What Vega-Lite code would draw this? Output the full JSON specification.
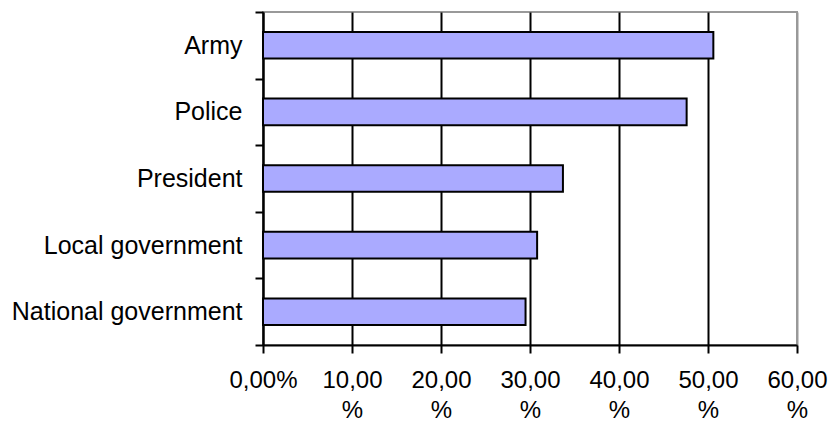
{
  "$schema": "https://vega.github.io/schema/vega-lite/v6.json",
  "width": 534,
  "height": 333,
  "autosize": "none",
  "padding": {"left": 263, "top": 12, "right": 33, "bottom": 76},
  "background": "white",
  "view": {"stroke": "#999999", "strokeWidth": 2},
  "data": {
    "values": [
      {"institution": "Army", "pct": 50.6},
      {"institution": "Police", "pct": 47.6},
      {"institution": "President", "pct": 33.7},
      {"institution": "Local government", "pct": 30.8},
      {"institution": "National government", "pct": 29.5}
    ]
  },
  "mark": {"type": "bar", "height": {"band": 0.4}, "fill": "#AAAAFF", "stroke": "black", "strokeWidth": 2},
  "encoding": {
    "y": {
      "field": "institution",
      "type": "nominal",
      "sort": null,
      "scale": {"paddingInner": 0, "paddingOuter": 0},
      "axis": {
        "title": null,
        "tickBand": "extent",
        "grid": false,
        "domainColor": "black",
        "domainWidth": 2,
        "tickColor": "black",
        "tickWidth": 2,
        "tickSize": 8,
        "labelPadding": 13,
        "labelFont": "Liberation Sans",
        "labelFontSize": 25,
        "labelColor": "black",
        "labelLimit": 400
      }
    },
    "x": {
      "field": "pct",
      "type": "quantitative",
      "scale": {"domain": [0, 60], "nice": false},
      "axis": {
        "title": null,
        "values": [0, 10, 20, 30, 40, 50, 60],
        "labelExpr": "datum.value == 0 ? '0,00%' : [replace(format(datum.value, '.2f'), '.', ','), '%']",
        "grid": true,
        "gridColor": {"condition": {"test": "datum.value == 60", "value": "#999999"}, "value": "black"},
        "gridWidth": 2,
        "domainColor": "black",
        "domainWidth": 2,
        "tickColor": "black",
        "tickWidth": 2,
        "tickSize": 8,
        "labelPadding": 15,
        "labelFont": "Liberation Sans",
        "labelFontSize": 24,
        "labelLineHeight": 30,
        "labelColor": "black",
        "labelOverlap": false,
        "labelFlush": false
      }
    }
  }
}
